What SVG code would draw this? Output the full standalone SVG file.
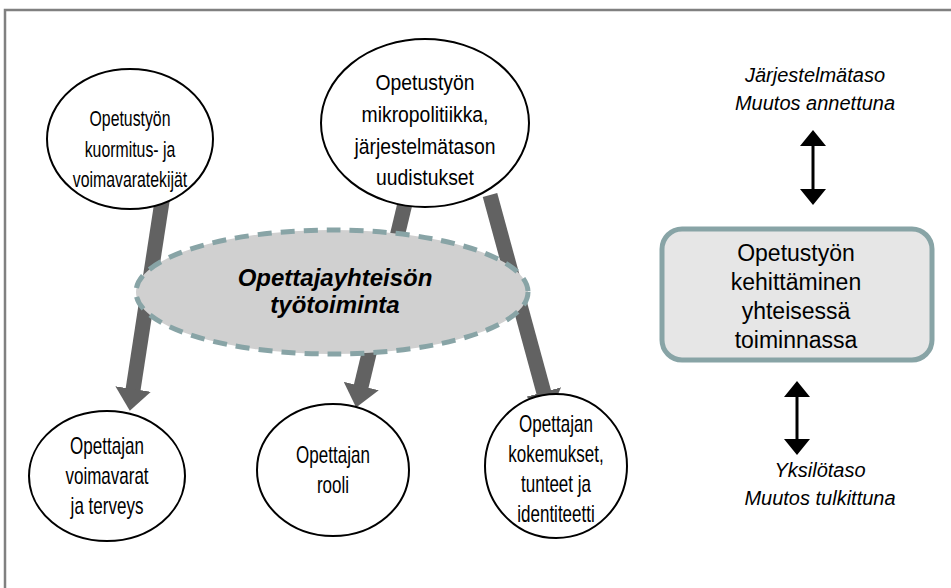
<svg xmlns="http://www.w3.org/2000/svg" width="951" height="588" viewBox="0 0 951 588">
<style>
.n{fill:#fff;stroke:#000;stroke-width:2}
.t{font-family:"Liberation Sans",Arial,sans-serif;font-size:20px;fill:#000;text-anchor:middle}
.k{font-size:22px}
.s{font-size:23px}
.b{font-size:24px;font-weight:bold;font-style:italic}
.i{font-style:italic}
.r{font-size:23px}
.conn{stroke:#626262;stroke-width:15;fill:none}
.dbl{stroke:#000;stroke-width:3;fill:none}
</style>
<defs>
<marker id="gh" markerUnits="userSpaceOnUse" markerWidth="22" markerHeight="36" refX="1" refY="18" orient="auto"><path d="M0,0 L22,18 L0,36 z" fill="#626262"/></marker>
<marker id="bh" markerUnits="userSpaceOnUse" markerWidth="16" markerHeight="26" refX="1" refY="13" orient="auto-start-reverse"><path d="M0,0 L16,13 L0,26 z" fill="#000"/></marker>
</defs>
<rect x="5" y="10" width="1000" height="1000" fill="none" stroke="#808080" stroke-width="2.5"/>
<g id="connectors">
<line class="conn" x1="163" y1="195" x2="133" y2="390" marker-end="url(#gh)"/>
<line class="conn" x1="407" y1="195" x2="361" y2="387" marker-end="url(#gh)"/>
<line class="conn" x1="490" y1="195" x2="544" y2="393" marker-end="url(#gh)"/>
<line class="dbl" x1="813" y1="145" x2="813" y2="190" marker-start="url(#bh)" marker-end="url(#bh)"/>
<line class="dbl" x1="797" y1="396" x2="797" y2="440" marker-start="url(#bh)" marker-end="url(#bh)"/>
</g>
<g id="kuormitus">
<ellipse class="n" cx="130" cy="139" rx="83" ry="70"/>
<g transform="translate(130,0) scale(0.72,1)">
<text class="t k" x="0" y="126">Opetustyön</text>
<text class="t k" x="0" y="157">kuormitus- ja</text>
<text class="t k" x="0" y="187">voimavaratekijät</text>
</g>
</g>
<g id="mikropolitiikka">
<ellipse class="n" cx="425" cy="123" rx="104" ry="84"/>
<g transform="translate(425,0) scale(0.88,1)">
<text class="t k" x="0" y="90">Opetustyön</text>
<text class="t k" x="0" y="122">mikropolitiikka,</text>
<text class="t k" x="0" y="154">järjestelmätason</text>
<text class="t k" x="0" y="185">uudistukset</text>
</g>
</g>
<g id="tyotoiminta">
<ellipse cx="332" cy="292" rx="196" ry="62" fill="#d0d0d0" stroke="#88a4a6" stroke-width="5" stroke-dasharray="14,9"/>
<text class="t b" x="335" y="286">Opettajayhteisön</text>
<text class="t b" x="335" y="313">työtoiminta</text>
</g>
<g id="kehittaminen">
<rect x="662" y="229" width="270" height="131" rx="20" fill="#e6e6e6" stroke="#88a4a6" stroke-width="5"/>
<text class="t r" x="796" y="261">Opetustyön</text>
<text class="t r" x="796" y="290">kehittäminen</text>
<text class="t r" x="796" y="319">yhteisessä</text>
<text class="t r" x="796" y="348">toiminnassa</text>
</g>
<g id="jarjestelmataso">
<text class="t i" x="815" y="82">Järjestelmätaso</text>
<text class="t i" x="815" y="110">Muutos annettuna</text>
</g>
<g id="yksilotaso">
<text class="t i" x="820" y="477">Yksilötaso</text>
<text class="t i" x="820" y="505">Muutos tulkittuna</text>
</g>
<g id="voimavarat">
<ellipse class="n" cx="107" cy="476" rx="78" ry="65"/>
<g transform="translate(107,0) scale(0.74,1)">
<text class="t s" x="0" y="454">Opettajan</text>
<text class="t s" x="0" y="484">voimavarat</text>
<text class="t s" x="0" y="514">ja terveys</text>
</g>
</g>
<g id="rooli">
<ellipse class="n" cx="333" cy="470" rx="76" ry="66"/>
<g transform="translate(333,0) scale(0.74,1)">
<text class="t s" x="0" y="463">Opettajan</text>
<text class="t s" x="0" y="493">rooli</text>
</g>
</g>
<g id="kokemukset">
<ellipse class="n" cx="556" cy="466" rx="71" ry="72"/>
<g transform="translate(556,0) scale(0.74,1)">
<text class="t s" x="0" y="432">Opettajan</text>
<text class="t s" x="0" y="462">kokemukset,</text>
<text class="t s" x="0" y="492">tunteet ja</text>
<text class="t s" x="0" y="522">identiteetti</text>
</g>
</g>
</svg>
